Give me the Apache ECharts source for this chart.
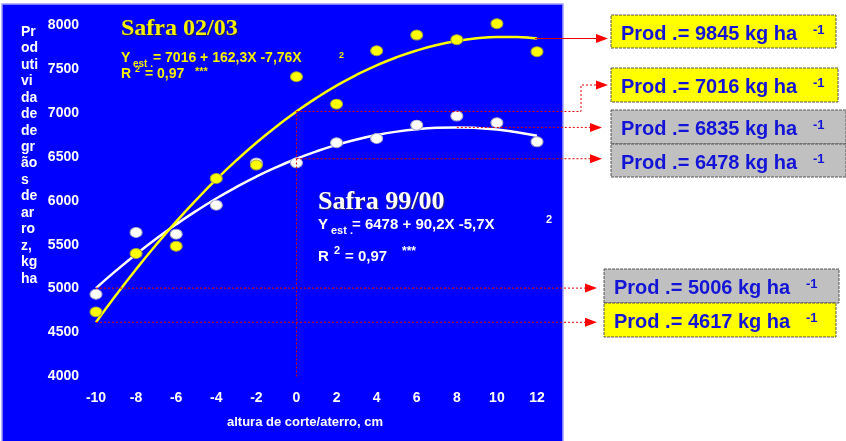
<!DOCTYPE html>
<html>
<head>
<meta charset="utf-8">
<script src="https://cdn.jsdelivr.net/npm/echarts@6/dist/echarts.min.js"></script>
<style>
  html, body { margin: 0; padding: 0; background: #ffffff; }
  #chart { width: 846px; height: 441px; }
</style>
</head>
<body>
<div id="chart"></div>
<script>
// Cut/fill height (cm) at which yield was measured
const xValues = [-10, -8, -6, -4, -2, 0, 2, 4, 6, 8, 10, 12];
// Observed grain yield, kg/ha
const obs9900 = [4936, 5639, 5620, 5950, 6430, 6432, 6660, 6709, 6861, 6964, 6887, 6671];
const obs0203 = [4735, 5400, 5483, 6254, 6406, 7411, 7100, 7707, 7886, 7833, 8015, 7696];

// Fitted regression curves (values of the stated equations at each cm)
const fitX = [-10, -9, -8, -7, -6, -5, -4, -3, -2, -1, 0, 1, 2, 3, 4, 5, 6, 7, 8, 9, 10, 11, 12];
const fit9900 = [5006, 5204.5, 5391.6, 5567.3, 5731.6, 5884.5, 6026, 6156.1, 6274.8, 6382.1, 6478,
                 6562.5, 6635.6, 6697.3, 6747.6, 6786.5, 6814, 6830.1, 6834.8, 6828.1, 6810, 6780.5, 6739.6];
const fit0203 = [4617, 4926.7, 5221, 5499.7, 5762.8, 6010.5, 6242.6, 6459.3, 6660.4, 6845.9, 7016,
                 7170.5, 7309.6, 7433.1, 7541, 7633.5, 7710.4, 7771.9, 7817.8, 7848.1, 7863, 7862.3, 7846.2];

// Axis ranges
const yMin = 4000, yMax = 8000, yStep = 500;
const xMin = -10, xMax = 12, xStep = 2;

// Callout values shown in the boxes
const prodLabels = ['9845', '7016', '6835', '6478', '5006', '4617'];

const yAxisTitle = ['Pr', 'od', 'uti', 'vi', 'da', 'de', 'de', 'gr', 'ão', 's', 'de', 'ar', 'ro', 'z,', 'kg', 'ha'];
const xAxisTitle = 'altura de corte/aterro, cm';

const SANS = '"Liberation Sans", Arial, Helvetica, sans-serif';
const SERIF = '"Liberation Serif", "Times New Roman", serif';
const PANEL = '#0000fe';
const RED = '#e00000';
const BOX_TEXT = '#1414d6';

const chart = echarts.init(document.getElementById('chart'), null, { renderer: 'canvas' });

const axisLabelStyle = { color: '#ffffff', fontWeight: 'bold', fontSize: 14, fontFamily: SANS };

chart.setOption({
  animation: false,
  backgroundColor: '#ffffff',
  grid: { left: 96, right: 309, top: 25, bottom: 64.5, containLabel: false, outerBoundsMode: 'none' },
  xAxis: {
    type: 'value', min: xMin, max: xMax, interval: xStep,
    axisLine: { show: false }, axisTick: { show: false }, splitLine: { show: false },
    axisLabel: Object.assign({ margin: 15, formatter: v => String(v) }, axisLabelStyle)
  },
  yAxis: {
    type: 'value', min: yMin, max: yMax, interval: yStep,
    axisLine: { show: false }, axisTick: { show: false }, splitLine: { show: false },
    axisLabel: Object.assign({ margin: 17, formatter: v => String(v) }, axisLabelStyle)
  },
  series: [
    {
      name: 'Safra 99/00 ajuste', type: 'line', smooth: true, showSymbol: false, z: 3,
      data: fitX.map((x, i) => [x, fit9900[i]]),
      lineStyle: { color: '#ffffff', width: 2.5 }
    },
    {
      name: 'Safra 02/03 ajuste', type: 'line', smooth: true, showSymbol: false, z: 3,
      data: fitX.map((x, i) => [x, fit0203[i]]),
      lineStyle: { color: '#ffff00', width: 2.5 }
    },
    {
      name: 'Safra 99/00', type: 'scatter', clip: false, z: 4,
      symbol: 'circle', symbolSize: [12, 10],
      data: xValues.map((x, i) => [x, obs9900[i]]),
      itemStyle: { color: '#ffffff', opacity: 1, borderColor: '#a8a8c8', borderWidth: 1 }
    },
    {
      name: 'Safra 02/03', type: 'scatter', clip: false, z: 5,
      symbol: 'circle', symbolSize: [12, 10],
      data: xValues.map((x, i) => [x, obs0203[i]]),
      itemStyle: { color: '#ffff00', opacity: 1, borderColor: '#a0a040', borderWidth: 1 }
    }
  ]
});

const px = (x, y) => chart.convertToPixel({ gridIndex: 0 }, [x, y]);

const els = [];

// Blue plotting panel
els.push({
  type: 'rect', z: -10, silent: true,
  shape: { x: 2, y: 4, width: 561, height: 440 },
  style: { fill: PANEL, stroke: '#a0a0ff', lineWidth: 1.5 }
});

// Vertical axis title, one short fragment per line
yAxisTitle.forEach((t, i) => {
  els.push({
    type: 'text', z: 10, silent: true, x: 21, y: 32 + i * 16.45,
    style: { text: t, fill: '#ffffff', font: 'bold 14px ' + SANS, textAlign: 'left', textVerticalAlign: 'middle' }
  });
});

// Horizontal axis title
els.push({
  type: 'text', z: 10, silent: true, x: 305, y: 422,
  style: { text: xAxisTitle, fill: '#ffffff', font: 'bold 13px ' + SANS, textAlign: 'center', textVerticalAlign: 'middle' }
});

function txt(text, x, y, font, fill, extra) {
  els.push({
    type: 'text', z: 10, silent: true, x: x, y: y,
    style: Object.assign({ text: text, fill: fill, font: font, textAlign: 'left', textVerticalAlign: 'middle' }, extra || {})
  });
}

// Season 02/03 heading and equation
const yel = '#f4f000';
txt('Safra 02/03', 121, 29, 'bold 24px ' + SERIF, yel,
    { textShadowColor: 'rgba(40,40,40,0.75)', textShadowBlur: 1, textShadowOffsetX: 1, textShadowOffsetY: 1 });
txt('Y', 121, 58, 'bold 14px ' + SANS, yel);
txt('est .', 133, 64, 'bold 10px ' + SANS, yel);
txt('= 7016 + 162,3X -7,76X', 153, 58, 'bold 14px ' + SANS, yel);
txt('2', 339, 56, 'bold 9px ' + SANS, yel);
txt('R', 121, 74, 'bold 14px ' + SANS, yel);
txt('2', 135, 70, 'bold 9px ' + SANS, yel);
txt('= 0,97', 145, 74, 'bold 14px ' + SANS, yel);
txt('***', 195, 72, 'bold 11px ' + SANS, yel);

// Season 99/00 heading and equation
txt('Safra 99/00', 318, 202, 'bold 26px ' + SERIF, '#ffffff',
    { textShadowColor: 'rgba(60,60,60,0.8)', textShadowBlur: 1, textShadowOffsetX: 1, textShadowOffsetY: 1 });
txt('Y', 318, 225, 'bold 15px ' + SANS, '#ffffff');
txt('est .', 331, 231, 'bold 11px ' + SANS, '#ffffff');
txt('= 6478 + 90,2X -5,7X', 352, 225, 'bold 15px ' + SANS, '#ffffff');
txt('2', 546, 220, 'bold 11px ' + SANS, '#ffffff');
txt('R', 318, 257, 'bold 15px ' + SANS, '#ffffff');
txt('2', 334, 251, 'bold 11px ' + SANS, '#ffffff');
txt('= 0,97', 345, 257, 'bold 15px ' + SANS, '#ffffff');
txt('***', 402, 252, 'bold 12px ' + SANS, '#ffffff');

// Connector lines from the fitted curves to the callout boxes
function connector(points, tipX, dashed) {
  els.push({
    type: 'polyline', z: 6, silent: true,
    shape: { points: points },
    style: { stroke: RED, lineWidth: 1, lineDash: dashed ? [2, 2] : null, fill: null }
  });
  const y = points[points.length - 1][1];
  els.push({
    type: 'polygon', z: 6, silent: true,
    shape: { points: [[tipX, y], [tipX - 12, y - 4.5], [tipX - 12, y + 4.5]] },
    style: { fill: '#ff0000' }
  });
}

const last = fitX.length - 1;
const i0 = fitX.indexOf(0);
let iMax = 0;
fit9900.forEach((v, i) => { if (v > fit9900[iMax]) iMax = i; });

// 02/03 at the right end of the curve
const pEnd = px(fitX[last], fit0203[last]);
connector([[pEnd[0] - 2, pEnd[1]], [598, pEnd[1]]], 608, false);

// 02/03 at zero cut/fill, with an elbow up to its box
const pY0 = px(0, fit0203[i0]);
connector([[pY0[0], pY0[1]], [581, pY0[1]], [581, 85], [597, 85]], 608, true);
const pBase = px(0, yMin);
els.push({
  type: 'line', z: 6, silent: true,
  shape: { x1: pBase[0], y1: pBase[1], x2: pY0[0], y2: pY0[1] },
  style: { stroke: RED, lineWidth: 1, lineDash: [2, 2] }
});

// 99/00 maximum and value at zero
const pMax = px(fitX[iMax], fit9900[iMax]);
connector([[pMax[0], pMax[1]], [590, pMax[1]]], 602, true);
const pW0 = px(0, fit9900[i0]);
connector([[pW0[0], pW0[1]], [590, pW0[1]]], 602, true);

// Both seasons at -10 cm
const pW10 = px(fitX[0], fit9900[0]);
connector([[pW10[0], pW10[1]], [585, pW10[1]]], 597, true);
const pY10 = px(fitX[0], fit0203[0]);
connector([[pY10[0], pY10[1]], [585, pY10[1]]], 597, true);

// Callout boxes
const boxes = [
  { left: 611, top: 15, w: 225, h: 33, fill: '#ffff00' },
  { left: 611, top: 68, w: 227, h: 34, fill: '#ffff00' },
  { left: 611, top: 110, w: 235, h: 34, fill: '#c0c0c0' },
  { left: 611, top: 144, w: 235, h: 33, fill: '#c0c0c0' },
  { left: 604, top: 269, w: 235, h: 34, fill: '#c0c0c0' },
  { left: 604, top: 303, w: 232, h: 34, fill: '#ffff00' }
];
boxes.forEach((b, i) => {
  els.push({
    type: 'rect', z: 8, silent: true,
    shape: { x: b.left, y: b.top, width: b.w, height: b.h },
    style: { fill: b.fill, stroke: '#555555', lineWidth: 1, lineDash: [3, 1] }
  });
  txt('Prod .= ' + prodLabels[i] + ' kg ha', b.left + 10, b.top + 19, 'bold 20px ' + SANS, BOX_TEXT);
  txt('-1', b.left + 202, b.top + 15, 'bold 13px ' + SANS, BOX_TEXT);
});

chart.setOption({ graphic: { elements: els } });
</script>
</body>
</html>
